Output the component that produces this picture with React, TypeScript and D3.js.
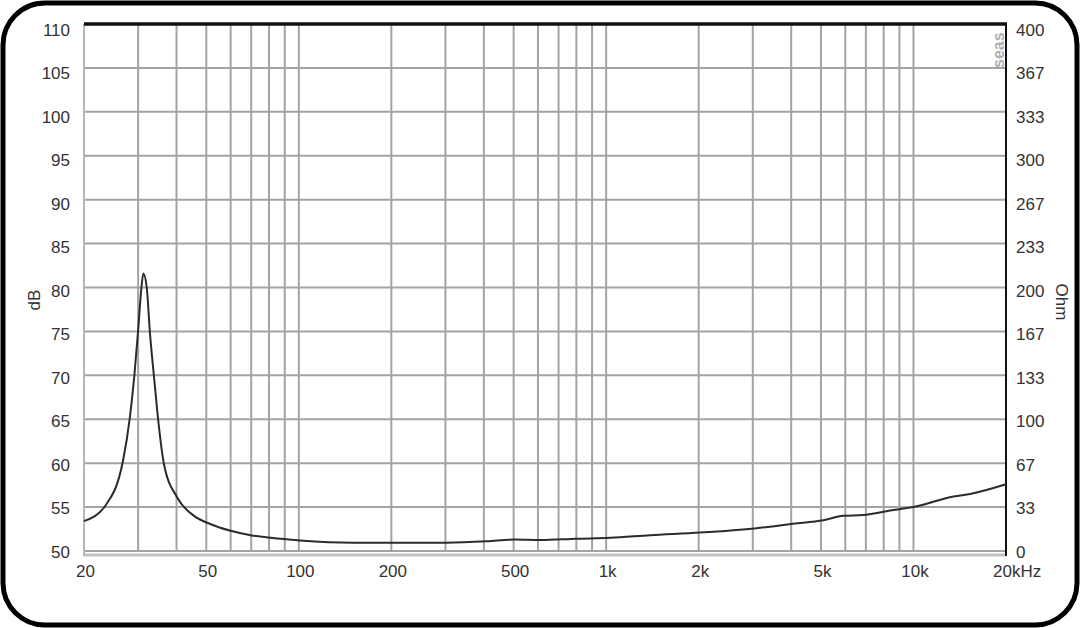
import * as d3 from "d3";

// impedance curve (Hz, dB-scale position)
const freqs = [
  20, 23.4, 26.8, 28.2, 29.2, 30.0, 30.7, 31.2, 32.0, 32.8, 33.8, 34.9, 36.4,
  40.2, 45.6, 51.7, 60, 69.7, 81, 101, 150, 213, 303, 409, 505, 609, 802, 1030,
  1390, 2020, 3090, 4060, 5090, 5900, 6870, 8390, 10250, 11600, 13500, 15300, 20000,
];
const levels = [
  53.4, 55.1, 60.3, 65.2, 70.2, 75.1, 79.7, 81.6, 80.0, 74.7, 69.8, 64.8, 59.9,
  56.1, 54.0, 53.05, 52.3, 51.8, 51.5, 51.2, 50.95, 50.95, 50.95, 51.1, 51.3, 51.25,
  51.4, 51.5, 51.8, 52.1, 52.6, 53.1, 53.5, 54.0, 54.1, 54.6, 55.1, 55.6, 56.2, 56.5, 57.6,
];

const gridFreqs = [
  20, 30, 40, 50, 60, 70, 80, 90, 100, 200, 300, 400, 500, 600, 700, 800, 900,
  1000, 2000, 3000, 4000, 5000, 6000, 7000, 8000, 9000, 10000, 20000,
];
const freqTicks = [20, 50, 100, 200, 500, 1000, 2000, 5000, 10000];
const freqLabels = ["20", "50", "100", "200", "500", "1k", "2k", "5k", "10k"];
const dbTicks = [50, 55, 60, 65, 70, 75, 80, 85, 90, 95, 100, 105, 110];
const ohmLabels = ["0", "33", "67", "100", "133", "167", "200", "233", "267", "300", "333", "367", "400"];

const W = 1080;
const H = 628;
const left = 84, right = 1006, top = 24, bottom = 551;
const font = "'Liberation Sans', Arial, sans-serif";
const fs = 17;

export default function App() {
  const x = d3.scaleLog().domain([20, 20000]).range([left, right]);
  const y = d3.scaleLinear().domain([50, 110]).range([bottom, top]);
  // tick labels sit on a slightly tighter spacing than the grid
  const yLab = d3.scaleLinear().domain([50, 110]).range([551.5, 29.5]);

  const line = d3
    .line<number>()
    .x((_, i) => x(freqs[i]))
    .y((d) => y(d))
    .curve(d3.curveMonotoneX);

  return (
    <svg width={W} height={H} style={{ position: "absolute", left: 0, top: 0 }} fontFamily={font}>
      <rect x={0} y={0} width={W} height={H} fill="#fff" />
      <rect x={3} y={3} width={W - 6} height={H - 6} rx={42} fill="none" stroke="#000" strokeWidth={5} />

      {/* grid */}
      {gridFreqs.map((f) => (
        <line key={"v" + f} x1={x(f)} x2={x(f)} y1={top} y2={bottom} stroke="#a3a3a3" strokeWidth={2} />
      ))}
      {dbTicks.map((d) => (
        <line key={"h" + d} x1={left} x2={right} y1={y(d)} y2={y(d)} stroke="#a3a3a3" strokeWidth={2} />
      ))}

      {/* frame */}
      <line x1={left} x2={right} y1={bottom + 4} y2={bottom + 4} stroke="#c4c4c4" strokeWidth={3} />
      <line x1={left} x2={left} y1={top} y2={bottom + 5} stroke="#b5b5b5" strokeWidth={2} />
      <line x1={left} x2={right + 1} y1={top} y2={top} stroke="#111" strokeWidth={3.5} />
      <line x1={right} x2={right} y1={top} y2={bottom + 5} stroke="#111" strokeWidth={2} />

      <text transform={`translate(1006,68) rotate(-90)`} fontSize={16} fill="#b0b0b0" fontWeight="bold" dy="-2">
        seas
      </text>

      {/* curve */}
      <path d={line(levels) ?? ""} fill="none" stroke="#2b2b2b" strokeWidth={2} strokeLinejoin="round" />

      {/* left axis */}
      {dbTicks.map((d) => (
        <text key={"l" + d} x={70} y={yLab(d)} dy="0.36em" textAnchor="end" fontSize={fs} fill="#333">
          {d}
        </text>
      ))}
      {/* right axis */}
      {dbTicks.map((d, i) => (
        <text key={"r" + d} x={1016} y={yLab(d)} dy="0.36em" textAnchor="start" fontSize={fs} fill="#333">
          {ohmLabels[i]}
        </text>
      ))}
      {/* bottom axis */}
      {freqTicks.map((f, i) => (
        <text key={"b" + f} x={x(f) + 1.5} y={577} textAnchor="middle" fontSize={fs} fill="#333">
          {freqLabels[i]}
        </text>
      ))}
      <text x={x(20000) - 13} y={577} textAnchor="start" fontSize={fs} fill="#333">
        20kHz
      </text>

      <text transform={`translate(34,300) rotate(-90)`} dy="0.36em" textAnchor="middle" fontSize={fs} fill="#333">
        dB
      </text>
      <text transform={`translate(1062,302) rotate(90)`} dy="0.36em" textAnchor="middle" fontSize={fs} fill="#333">
        Ohm
      </text>
    </svg>
  );
}
